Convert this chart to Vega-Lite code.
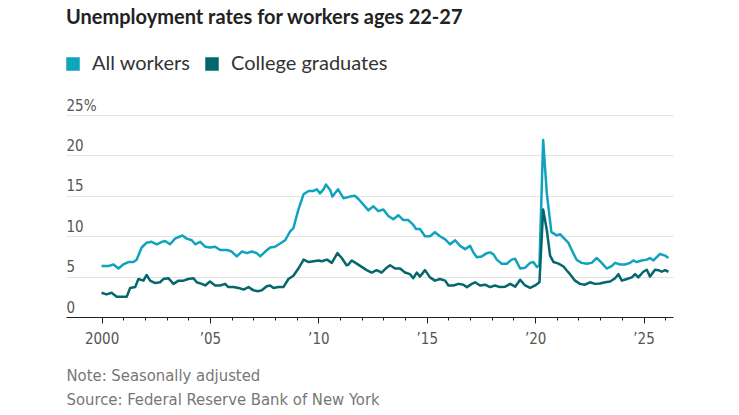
{
 "$schema": "https://vega.github.io/schema/vega-lite/v6.json",
 "width": 607, "height": 202,
 "autosize": {"type": "none"},
 "padding": {"left": 66, "top": 115, "right": 66, "bottom": 98},
 "background": "white",
 "title": {"text": "Unemployment rates for workers ages 22-27", "anchor": "start", "frame": "group", "font": "Lato", "fontSize": 20, "fontWeight": "bold", "color": "#222222", "offset": 26},
 "config": {"view": {"stroke": null}},
 "data": {"values": [
  {"t":2000.0,"s":"All workers","v":6.3},{"t":2000.3,"s":"All workers","v":6.3},{"t":2000.55,"s":"All workers","v":6.5},{"t":2000.78,"s":"All workers","v":6.0},{"t":2001.0,"s":"All workers","v":6.5},{"t":2001.24,"s":"All workers","v":6.8},{"t":2001.47,"s":"All workers","v":6.8},{"t":2001.62,"s":"All workers","v":7.1},{"t":2001.85,"s":"All workers","v":8.6},{"t":2002.08,"s":"All workers","v":9.2},{"t":2002.3,"s":"All workers","v":9.3},{"t":2002.55,"s":"All workers","v":9.0},{"t":2002.78,"s":"All workers","v":9.3},{"t":2002.93,"s":"All workers","v":9.4},{"t":2003.16,"s":"All workers","v":9.0},{"t":2003.39,"s":"All workers","v":9.7},{"t":2003.62,"s":"All workers","v":9.96},{"t":2003.73,"s":"All workers","v":10.1},{"t":2003.93,"s":"All workers","v":9.7},{"t":2004.16,"s":"All workers","v":9.5},{"t":2004.32,"s":"All workers","v":9.0},{"t":2004.55,"s":"All workers","v":9.3},{"t":2004.78,"s":"All workers","v":8.7},{"t":2005.0,"s":"All workers","v":8.6},{"t":2005.24,"s":"All workers","v":8.7},{"t":2005.47,"s":"All workers","v":8.3},{"t":2005.78,"s":"All workers","v":8.3},{"t":2006.0,"s":"All workers","v":8.1},{"t":2006.24,"s":"All workers","v":7.5},{"t":2006.47,"s":"All workers","v":8.1},{"t":2006.7,"s":"All workers","v":7.9},{"t":2006.93,"s":"All workers","v":8.1},{"t":2007.16,"s":"All workers","v":7.9},{"t":2007.32,"s":"All workers","v":7.5},{"t":2007.55,"s":"All workers","v":8.1},{"t":2007.78,"s":"All workers","v":8.6},{"t":2008.0,"s":"All workers","v":8.7},{"t":2008.24,"s":"All workers","v":9.1},{"t":2008.47,"s":"All workers","v":9.5},{"t":2008.7,"s":"All workers","v":10.6},{"t":2008.85,"s":"All workers","v":11.0},{"t":2009.08,"s":"All workers","v":13.3},{"t":2009.32,"s":"All workers","v":15.2},{"t":2009.55,"s":"All workers","v":15.6},{"t":2009.78,"s":"All workers","v":15.6},{"t":2009.93,"s":"All workers","v":15.8},{"t":2010.08,"s":"All workers","v":15.3},{"t":2010.24,"s":"All workers","v":15.8},{"t":2010.35,"s":"All workers","v":16.4},{"t":2010.55,"s":"All workers","v":15.7},{"t":2010.65,"s":"All workers","v":14.9},{"t":2010.91,"s":"All workers","v":15.8},{"t":2011.16,"s":"All workers","v":14.7},{"t":2011.46,"s":"All workers","v":14.9},{"t":2011.69,"s":"All workers","v":15.0},{"t":2011.85,"s":"All workers","v":14.6},{"t":2012.08,"s":"All workers","v":13.9},{"t":2012.31,"s":"All workers","v":13.2},{"t":2012.54,"s":"All workers","v":13.7},{"t":2012.77,"s":"All workers","v":13.1},{"t":2013.0,"s":"All workers","v":13.3},{"t":2013.23,"s":"All workers","v":12.5},{"t":2013.46,"s":"All workers","v":12.1},{"t":2013.69,"s":"All workers","v":12.6},{"t":2013.92,"s":"All workers","v":12.0},{"t":2014.15,"s":"All workers","v":12.0},{"t":2014.38,"s":"All workers","v":11.4},{"t":2014.5,"s":"All workers","v":10.9},{"t":2014.69,"s":"All workers","v":10.9},{"t":2014.92,"s":"All workers","v":10.0},{"t":2015.15,"s":"All workers","v":10.0},{"t":2015.38,"s":"All workers","v":10.5},{"t":2015.61,"s":"All workers","v":10.0},{"t":2015.85,"s":"All workers","v":9.6},{"t":2016.08,"s":"All workers","v":9.0},{"t":2016.31,"s":"All workers","v":9.5},{"t":2016.54,"s":"All workers","v":8.8},{"t":2016.77,"s":"All workers","v":8.4},{"t":2017.0,"s":"All workers","v":8.8},{"t":2017.15,"s":"All workers","v":8.0},{"t":2017.31,"s":"All workers","v":7.4},{"t":2017.54,"s":"All workers","v":7.5},{"t":2017.77,"s":"All workers","v":7.9},{"t":2017.92,"s":"All workers","v":8.0},{"t":2018.08,"s":"All workers","v":7.75},{"t":2018.23,"s":"All workers","v":7.1},{"t":2018.46,"s":"All workers","v":6.6},{"t":2018.69,"s":"All workers","v":6.6},{"t":2018.92,"s":"All workers","v":7.1},{"t":2019.08,"s":"All workers","v":7.2},{"t":2019.31,"s":"All workers","v":6.0},{"t":2019.54,"s":"All workers","v":6.1},{"t":2019.77,"s":"All workers","v":6.7},{"t":2019.92,"s":"All workers","v":6.8},{"t":2020.08,"s":"All workers","v":6.2},{"t":2020.2,"s":"All workers","v":6.4},{"t":2020.37,"s":"All workers","v":21.9},{"t":2020.54,"s":"All workers","v":15.3},{"t":2020.75,"s":"All workers","v":10.5},{"t":2021.0,"s":"All workers","v":10.1},{"t":2021.15,"s":"All workers","v":10.25},{"t":2021.38,"s":"All workers","v":9.6},{"t":2021.53,"s":"All workers","v":9.2},{"t":2021.76,"s":"All workers","v":7.9},{"t":2021.92,"s":"All workers","v":7.05},{"t":2022.15,"s":"All workers","v":6.7},{"t":2022.38,"s":"All workers","v":6.6},{"t":2022.61,"s":"All workers","v":6.7},{"t":2022.84,"s":"All workers","v":7.3},{"t":2023.07,"s":"All workers","v":6.7},{"t":2023.3,"s":"All workers","v":6.0},{"t":2023.53,"s":"All workers","v":6.3},{"t":2023.69,"s":"All workers","v":6.7},{"t":2023.92,"s":"All workers","v":6.5},{"t":2024.15,"s":"All workers","v":6.5},{"t":2024.38,"s":"All workers","v":6.7},{"t":2024.53,"s":"All workers","v":7.0},{"t":2024.69,"s":"All workers","v":6.8},{"t":2024.92,"s":"All workers","v":7.0},{"t":2025.15,"s":"All workers","v":7.1},{"t":2025.3,"s":"All workers","v":7.3},{"t":2025.46,"s":"All workers","v":7.0},{"t":2025.61,"s":"All workers","v":7.4},{"t":2025.76,"s":"All workers","v":7.8},{"t":2025.99,"s":"All workers","v":7.6},{"t":2026.15,"s":"All workers","v":7.3},
  {"t":2000.0,"s":"College graduates","v":3.0},{"t":2000.23,"s":"College graduates","v":2.8},{"t":2000.46,"s":"College graduates","v":3.0},{"t":2000.7,"s":"College graduates","v":2.5},{"t":2000.93,"s":"College graduates","v":2.5},{"t":2001.16,"s":"College graduates","v":2.5},{"t":2001.32,"s":"College graduates","v":3.6},{"t":2001.55,"s":"College graduates","v":3.7},{"t":2001.7,"s":"College graduates","v":4.7},{"t":2001.93,"s":"College graduates","v":4.5},{"t":2002.08,"s":"College graduates","v":5.2},{"t":2002.24,"s":"College graduates","v":4.5},{"t":2002.47,"s":"College graduates","v":4.2},{"t":2002.7,"s":"College graduates","v":4.3},{"t":2002.85,"s":"College graduates","v":4.7},{"t":2003.08,"s":"College graduates","v":4.8},{"t":2003.32,"s":"College graduates","v":4.1},{"t":2003.55,"s":"College graduates","v":4.5},{"t":2003.78,"s":"College graduates","v":4.5},{"t":2004.0,"s":"College graduates","v":4.7},{"t":2004.24,"s":"College graduates","v":4.8},{"t":2004.39,"s":"College graduates","v":4.3},{"t":2004.62,"s":"College graduates","v":4.1},{"t":2004.78,"s":"College graduates","v":3.9},{"t":2005.0,"s":"College graduates","v":4.4},{"t":2005.24,"s":"College graduates","v":3.9},{"t":2005.47,"s":"College graduates","v":3.9},{"t":2005.7,"s":"College graduates","v":4.1},{"t":2005.85,"s":"College graduates","v":3.7},{"t":2006.08,"s":"College graduates","v":3.7},{"t":2006.31,"s":"College graduates","v":3.6},{"t":2006.55,"s":"College graduates","v":3.4},{"t":2006.78,"s":"College graduates","v":3.7},{"t":2007.01,"s":"College graduates","v":3.3},{"t":2007.24,"s":"College graduates","v":3.2},{"t":2007.39,"s":"College graduates","v":3.3},{"t":2007.62,"s":"College graduates","v":3.8},{"t":2007.78,"s":"College graduates","v":3.9},{"t":2007.93,"s":"College graduates","v":3.6},{"t":2008.16,"s":"College graduates","v":3.7},{"t":2008.39,"s":"College graduates","v":3.7},{"t":2008.62,"s":"College graduates","v":4.7},{"t":2008.85,"s":"College graduates","v":5.1},{"t":2009.08,"s":"College graduates","v":6.0},{"t":2009.32,"s":"College graduates","v":7.1},{"t":2009.55,"s":"College graduates","v":6.8},{"t":2009.78,"s":"College graduates","v":6.9},{"t":2010.01,"s":"College graduates","v":7.0},{"t":2010.16,"s":"College graduates","v":6.9},{"t":2010.4,"s":"College graduates","v":7.1},{"t":2010.62,"s":"College graduates","v":6.7},{"t":2010.88,"s":"College graduates","v":7.9},{"t":2011.08,"s":"College graduates","v":7.3},{"t":2011.3,"s":"College graduates","v":6.4},{"t":2011.39,"s":"College graduates","v":6.5},{"t":2011.54,"s":"College graduates","v":7.0},{"t":2011.77,"s":"College graduates","v":6.6},{"t":2012.0,"s":"College graduates","v":6.2},{"t":2012.23,"s":"College graduates","v":5.8},{"t":2012.46,"s":"College graduates","v":5.5},{"t":2012.69,"s":"College graduates","v":5.8},{"t":2012.92,"s":"College graduates","v":5.5},{"t":2013.15,"s":"College graduates","v":6.1},{"t":2013.31,"s":"College graduates","v":6.4},{"t":2013.54,"s":"College graduates","v":6.0},{"t":2013.77,"s":"College graduates","v":6.0},{"t":2014.0,"s":"College graduates","v":5.5},{"t":2014.23,"s":"College graduates","v":5.3},{"t":2014.38,"s":"College graduates","v":4.8},{"t":2014.54,"s":"College graduates","v":5.5},{"t":2014.69,"s":"College graduates","v":5.0},{"t":2014.92,"s":"College graduates","v":5.8},{"t":2015.15,"s":"College graduates","v":4.9},{"t":2015.38,"s":"College graduates","v":4.5},{"t":2015.61,"s":"College graduates","v":4.7},{"t":2015.85,"s":"College graduates","v":4.5},{"t":2016.0,"s":"College graduates","v":3.9},{"t":2016.23,"s":"College graduates","v":3.9},{"t":2016.46,"s":"College graduates","v":4.1},{"t":2016.69,"s":"College graduates","v":4.0},{"t":2016.85,"s":"College graduates","v":3.7},{"t":2017.08,"s":"College graduates","v":4.1},{"t":2017.23,"s":"College graduates","v":4.3},{"t":2017.46,"s":"College graduates","v":3.9},{"t":2017.69,"s":"College graduates","v":4.0},{"t":2017.92,"s":"College graduates","v":3.7},{"t":2018.15,"s":"College graduates","v":3.9},{"t":2018.38,"s":"College graduates","v":3.7},{"t":2018.62,"s":"College graduates","v":3.75},{"t":2018.85,"s":"College graduates","v":4.1},{"t":2019.08,"s":"College graduates","v":3.75},{"t":2019.31,"s":"College graduates","v":4.6},{"t":2019.54,"s":"College graduates","v":3.9},{"t":2019.77,"s":"College graduates","v":3.6},{"t":2020.0,"s":"College graduates","v":3.9},{"t":2020.2,"s":"College graduates","v":4.3},{"t":2020.37,"s":"College graduates","v":13.3},{"t":2020.54,"s":"College graduates","v":10.75},{"t":2020.69,"s":"College graduates","v":7.6},{"t":2020.85,"s":"College graduates","v":6.8},{"t":2021.08,"s":"College graduates","v":6.6},{"t":2021.31,"s":"College graduates","v":6.25},{"t":2021.46,"s":"College graduates","v":5.75},{"t":2021.61,"s":"College graduates","v":5.3},{"t":2021.84,"s":"College graduates","v":4.5},{"t":2022.07,"s":"College graduates","v":4.1},{"t":2022.3,"s":"College graduates","v":4.0},{"t":2022.53,"s":"College graduates","v":4.3},{"t":2022.76,"s":"College graduates","v":4.1},{"t":2022.99,"s":"College graduates","v":4.15},{"t":2023.23,"s":"College graduates","v":4.3},{"t":2023.46,"s":"College graduates","v":4.4},{"t":2023.69,"s":"College graduates","v":4.8},{"t":2023.84,"s":"College graduates","v":5.3},{"t":2024.0,"s":"College graduates","v":4.5},{"t":2024.23,"s":"College graduates","v":4.7},{"t":2024.46,"s":"College graduates","v":4.9},{"t":2024.61,"s":"College graduates","v":5.3},{"t":2024.76,"s":"College graduates","v":4.9},{"t":2024.99,"s":"College graduates","v":5.6},{"t":2025.15,"s":"College graduates","v":5.85},{"t":2025.3,"s":"College graduates","v":5.0},{"t":2025.53,"s":"College graduates","v":5.85},{"t":2025.69,"s":"College graduates","v":5.8},{"t":2025.84,"s":"College graduates","v":5.6},{"t":2025.99,"s":"College graduates","v":5.8},{"t":2026.15,"s":"College graduates","v":5.6}
 ]},
 "mark": {"type": "line", "strokeWidth": 2.5, "strokeJoin": "round"},
 "encoding": {
  "x": {"field": "t", "type": "quantitative",
   "scale": {"domain": [1998.36, 2026.36], "nice": false, "zero": false},
   "axis": {"values": [2000,2001,2002,2003,2004,2005,2006,2007,2008,2009,2010,2011,2012,2013,2014,2015,2016,2017,2018,2019,2020,2021,2022,2023,2024,2025,2026],
    "grid": false, "domainColor": "#222222", "domainWidth": 1, "tickColor": "#222222", "tickWidth": 1,
    "tickSize": {"condition": {"test": "datum.value % 5 === 0", "value": 6}, "value": 3},
    "labelExpr": "datum.value % 5 === 0 ? (datum.value === 2000 ? '2000' : '\u2019' + substring(toString(datum.value), 2, 4)) : ''",
    "labelFont": "DejaVu Sans Condensed, Roboto", "labelFontSize": 15, "labelColor": "#555555", "labelPadding": 8,
    "title": ["Note: Seasonally adjusted", "Source: Federal Reserve Bank of New York"],
    "titleAnchor": "start", "titleAlign": "left", "titleBaseline": "top", "titleFont": "DejaVu Sans Condensed, Roboto", "titleFontSize": 16.5, "titleFontWeight": "normal", "titleColor": "#777777", "titleLineHeight": 24, "titlePadding": 21}},
  "y": {"field": "v", "type": "quantitative",
   "scale": {"domain": [0, 25], "nice": false},
   "axis": {"values": [0,5,10,15,20,25], "grid": true, "gridColor": "#e3e3e3", "gridWidth": 1, "domain": false, "ticks": false, "tickSize": 0,
    "labelAlign": "left", "labelBaseline": "bottom", "labelPadding": 0, "labelOffset": -2,
    "labelExpr": "datum.value === 25 ? '25%' : datum.label",
    "labelFont": "DejaVu Sans Condensed, Roboto", "labelFontSize": 15, "labelColor": "#555555", "title": null}},
  "color": {"field": "s", "type": "nominal",
   "scale": {"domain": ["All workers", "College graduates"], "range": ["#0fa3bd", "#05666c"]},
   "legend": {"orient": "none", "legendX": -3, "legendY": -61, "direction": "horizontal", "title": null,
    "symbolType": "square", "symbolSize": 144, "labelFont": "Lato", "labelFontSize": 20, "labelColor": "#333333", "labelOffset": 9, "columnPadding": 11,
    "encode": {"symbols": {"update": {"fill": {"scale": "color", "field": "value"}, "stroke": {"value": "transparent"}, "fillOpacity": {"value": 1}}}}}}
 }
}
